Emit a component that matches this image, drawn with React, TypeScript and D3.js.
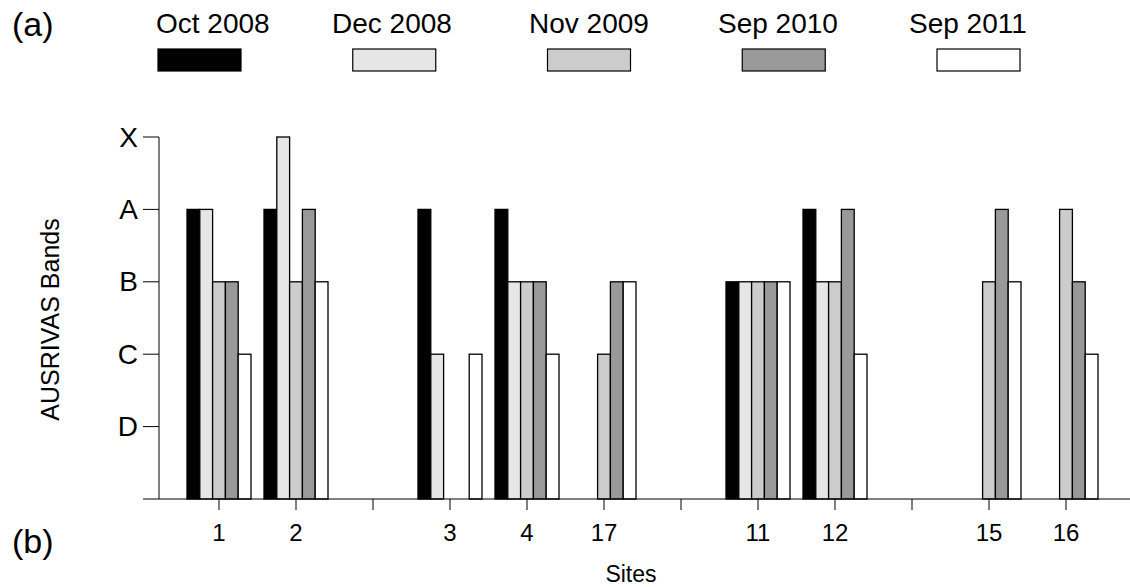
import React from "react";
import * as d3 from "d3";

const sites = ["1", "2", "gap-a", "3", "4", "17", "gap-b", "11", "12", "gap-c", "15", "16"];
const siteLabels = ["1", "2", "", "3", "4", "17", "", "11", "12", "", "15", "16"];
const bandTicks = [1, 2, 3, 4, 5];
const bandLabels = ["D", "C", "B", "A", "X"];
const seriesNames = ["Oct 2008", "Dec 2008", "Nov 2009", "Sep 2010", "Sep 2011"];
const seriesColors = ["#000000", "#e6e6e6", "#cccccc", "#999999", "#ffffff"];
const oct2008 = [4, 4, 0, 4, 4, 0, 0, 3, 4, 0, 0, 0];
const dec2008 = [4, 5, 0, 2, 3, 0, 0, 3, 3, 0, 0, 0];
const nov2009 = [3, 3, 0, 0, 3, 2, 0, 3, 3, 0, 3, 4];
const sep2010 = [3, 4, 0, 0, 3, 3, 0, 3, 4, 0, 4, 3];
const sep2011 = [2, 3, 0, 2, 2, 3, 0, 3, 2, 0, 3, 2];
const seriesValues = [oct2008, dec2008, nov2009, sep2010, sep2011];

// layout only
const legendTextLeft = [156, 332, 529, 718, 909];

const W = 1130;
const H = 587;
const FONT = "'Liberation Sans', Arial, Helvetica, sans-serif";

export default function App() {
  const x = d3
    .scaleBand<string>()
    .domain(sites)
    .range([180.5, 1104.5])
    .paddingInner(13 / 77)
    .paddingOuter(13 / 154);
  const xs = d3
    .scaleBand<number>()
    .domain(d3.range(seriesNames.length))
    .range([0, x.bandwidth()]);
  const y = d3.scaleLinear().domain([0, 5]).range([499, 137]);
  const axisX = 159;

  const legendRect = d3.scaleLinear().domain([0, 4]).range([158, 158 + 194.75 * 4]);

  return (
    <svg
      width={W}
      height={H}
      style={{ position: "absolute", left: 0, top: 0, background: "#fff" }}
      fontFamily={FONT}
    >
      <rect x={0} y={0} width={W} height={H} fill="#fff" />
      <text x={12} y={36} fontSize={34}>(a)</text>
      <text x={12} y={553} fontSize={34}>(b)</text>

      {seriesNames.map((name, i) => (
        <g key={name}>
          <text x={legendTextLeft[i]} y={33} fontSize={28} textAnchor="start">
            {name}
          </text>
          <rect
            x={legendRect(i)}
            y={49}
            width={83}
            height={22}
            fill={seriesColors[i]}
            stroke="#000"
            strokeWidth={1.2}
          />
        </g>
      ))}

      {/* bars */}
      {sites.map((s, si) => (
        <g key={s} transform={`translate(${x(s)},0)`}>
          {seriesValues.map((vals, k) => (
            <rect
              key={k}
              x={xs(k)}
              y={y(vals[si])}
              width={xs.bandwidth()}
              height={y(0) - y(vals[si])}
              fill={seriesColors[k]}
              stroke="#000"
              strokeWidth={1.3}
            />
          ))}
        </g>
      ))}

      {/* y axis */}
      <line x1={axisX} x2={axisX} y1={y(5)} y2={y(0)} stroke="#000" strokeWidth={1} />
      {bandTicks.map((t, i) => (
        <g key={t}>
          <line x1={143} x2={axisX} y1={y(t)} y2={y(t)} stroke="#000" strokeWidth={1} />
          <text
            x={138}
            y={y(t)}
            fontSize={28}
            textAnchor="end"
            dominantBaseline="central"
          >
            {bandLabels[i]}
          </text>
        </g>
      ))}

      {/* x axis */}
      <line x1={143} x2={W} y1={y(0)} y2={y(0)} stroke="#000" strokeWidth={1} />
      {sites.map((s, i) => {
        const cx = (x(s) as number) + x.bandwidth() / 2;
        return (
          <g key={s}>
            <line x1={cx} x2={cx} y1={y(0)} y2={y(0) + 11} stroke="#000" strokeWidth={1} />
            <text x={cx} y={541} fontSize={24} textAnchor="middle">
              {siteLabels[i]}
            </text>
          </g>
        );
      })}

      <text x={631} y={582} fontSize={23} textAnchor="middle">Sites</text>
      <text
        transform={`translate(59,${319.5}) rotate(-90)`}
        fontSize={25}
        textAnchor="middle"
      >
        AUSRIVAS Bands
      </text>
    </svg>
  );
}
